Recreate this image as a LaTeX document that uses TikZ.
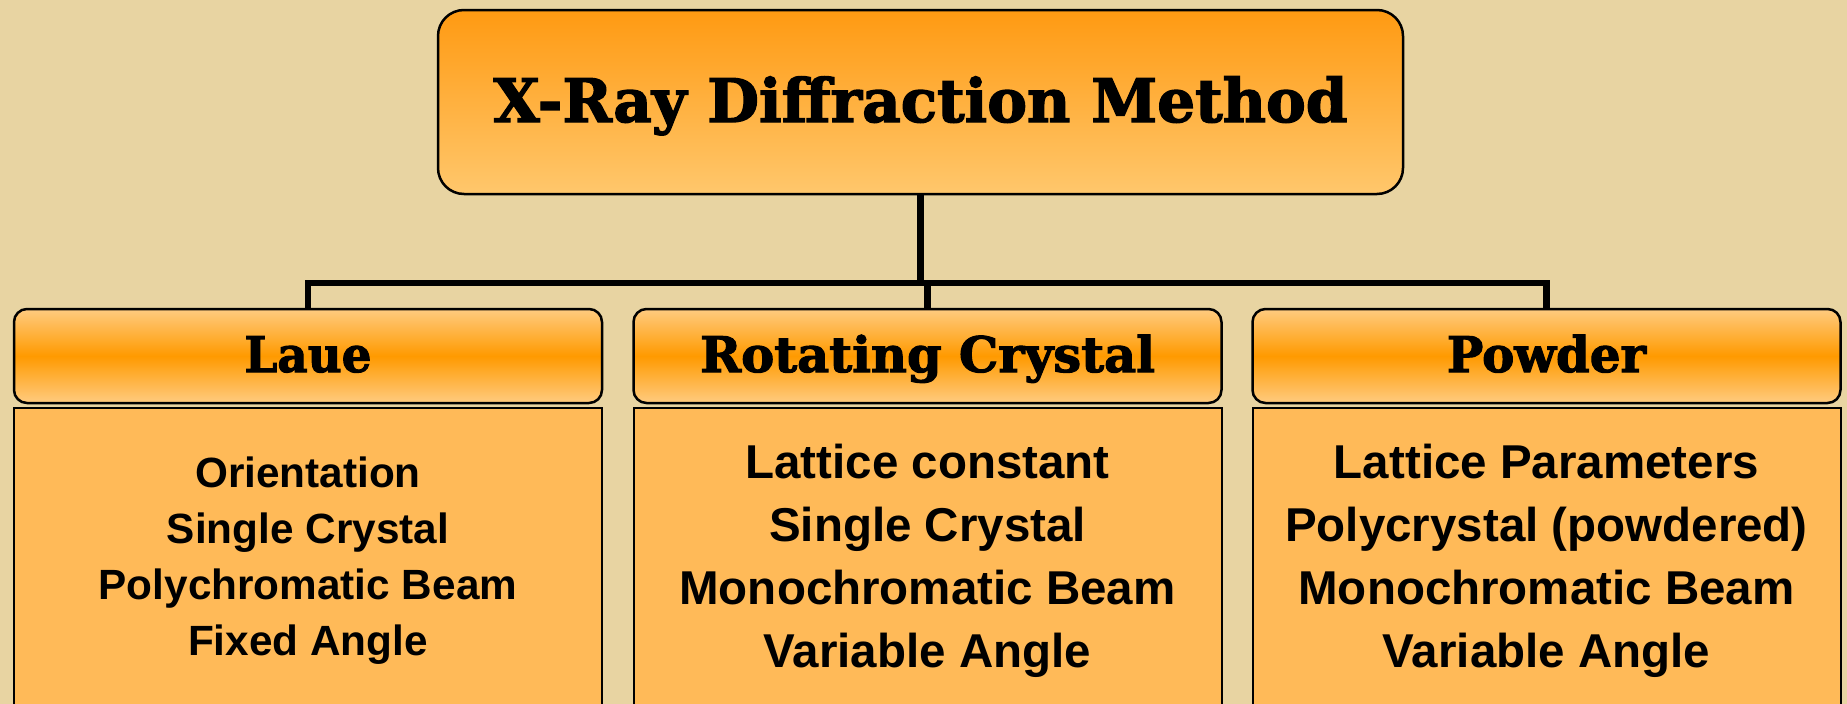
\documentclass[tikz,border=0pt]{standalone}
\usepackage{fontspec}
\setmainfont{Liberation Sans}
\newfontfamily\slab{DejaVu Serif}[BoldFeatures={FakeBold=2.2}]
\usepackage{graphicx}
\definecolor{bg}{HTML}{E8D4A2}
\definecolor{orDark}{HTML}{FF9A00}
\definecolor{orLight}{HTML}{FFCB80}
\definecolor{bodyfill}{HTML}{FFBA58}
\definecolor{topTop}{HTML}{FF9A12}
\definecolor{topBot}{HTML}{FFC76C}
\newcommand{\fitw}[2]{\resizebox{#1}{\height}{#2}}
\begin{document}
\begin{tikzpicture}[x=1pt,y=-1pt,
 topbox/.style={draw=black, line width=2.5pt, rounded corners=26pt,
   top color=topTop, bottom color=topBot, minimum width=965pt, minimum height=184pt,
   inner sep=0pt, text height=44pt, text depth=4pt,
   font=\fontsize{60}{70}\selectfont\slab\bfseries},
 hdrbox/.style={draw=black, line width=2.5pt, rounded corners=13pt,
   top color=orLight, bottom color=orLight, middle color=orDark,
   minimum width=588pt, minimum height=94pt, inner sep=0pt,
   text height=36pt, text depth=4pt,
   font=\fontsize{49}{58}\selectfont\slab\bfseries},
 bodybox/.style={draw=black, line width=2pt, fill=bodyfill,
   minimum width=588pt, minimum height=330pt, inner sep=0pt, anchor=north},
 conn/.style={line width=6.5pt, draw=black},
 smalltxt/.style={anchor=base, inner sep=0pt, font=\fontsize{42.3}{50}\selectfont\bfseries},
 bigtxt/.style={anchor=base, inner sep=0pt, font=\fontsize{47.5}{56}\selectfont\bfseries},
]
\useasboundingbox (0,0) rectangle (1847,704);
\clip (0,0) rectangle (1847,704);
\fill[bg] (0,0) rectangle (1847,704);

% top node
\node[topbox] (top) at (920.5,102) {\fitw{854pt}{X-Ray Diffraction Method}};

% headers
\node[hdrbox] (laue) at (308,356) {\fitw{127pt}{Laue}};
\node[hdrbox] (rot)  at (927.5,356) {\fitw{455pt}{Rotating Crystal}};
\node[hdrbox] (pow)  at (1546.5,356) {\fitw{199pt}{Powder}};

% body boxes
\node[bodybox] (lauebody) at (308,407) {};
\node[bodybox] (rotbody)  at (927.5,407) {};
\node[bodybox] (powbody)  at (1546.5,407) {};

% connectors
\coordinate (barL) at (308,283);
\coordinate (barR) at (1546.5,283);
\draw[conn] (laue.north) -- (barL) -- (barR) -- (pow.north);
\draw[conn] (top.south) -- (top.south |- barL);
\draw[conn] (rot.north |- barL) -- (rot.north);

% Laue text
\node[smalltxt] (l1) at (308,487) {Orientation};
\node[smalltxt] (l2) at (308,543) {Single Crystal};
\node[smalltxt] (l3) at (308,599) {Polychromatic Beam};
\node[smalltxt] (l4) at (308,655) {Fixed Angle};

% Rotating crystal text
\node[bigtxt] (r1) at (927.5,478) {Lattice constant};
\node[bigtxt] (r2) at (927.5,541) {Single Crystal};
\node[bigtxt] (r3) at (927.5,604) {Monochromatic Beam};
\node[bigtxt] (r4) at (927.5,667) {Variable Angle};

% Powder text
\node[bigtxt] (p1) at (1546.5,478) {Lattice Parameters};
\node[bigtxt] (p2) at (1546.5,541) {Polycrystal (powdered)};
\node[bigtxt] (p3) at (1546.5,604) {Monochromatic Beam};
\node[bigtxt] (p4) at (1546.5,667) {Variable Angle};
\end{tikzpicture}
\end{document}
